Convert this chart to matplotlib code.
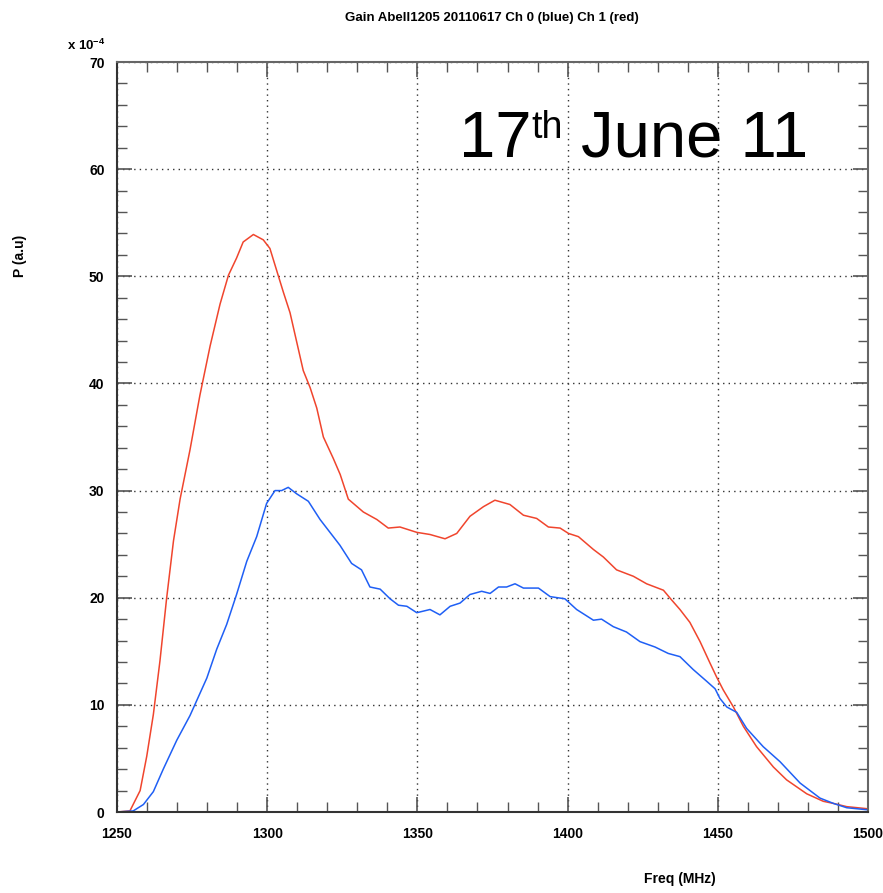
import matplotlib
matplotlib.use("Agg")
import matplotlib.pyplot as plt
from matplotlib.ticker import MultipleLocator

freq_red = [1250, 1254.3, 1257.7, 1259.9, 1262.1, 1264.3, 1266.5, 1268.8, 1271, 1274.3, 1277.6,
            1281, 1284.3, 1287.1, 1289.8, 1292, 1295.4, 1298.7, 1300.9, 1303.2, 1305.4, 1307.6,
            1309.8, 1312, 1314.3, 1316.5, 1318.7, 1322, 1324.3, 1327, 1332, 1336.5, 1340.3,
            1344.2, 1349.8, 1354.2, 1359.2, 1363.1, 1367.5, 1372, 1375.8, 1380.8, 1385.3,
            1389.7, 1393.6, 1397.5, 1400.3, 1403.6, 1408.6, 1411.9, 1416.3, 1421.9, 1426.3,
            1431.9, 1434.6, 1437.4, 1440.7, 1444.1, 1447.4, 1449.6, 1451.8, 1455.2, 1458.5,
            1462.9, 1468.5, 1472.9, 1479.6, 1485.1, 1488.5, 1492.9, 1500]
p_red = [0, 0.1, 2.0, 5.2, 9.1, 14.1, 19.9, 25.3, 29.2, 33.8, 38.9,
         43.5, 47.4, 50.1, 51.7, 53.2, 53.9, 53.4, 52.6, 50.5, 48.5, 46.6,
         43.9, 41.2, 39.6, 37.7, 35.0, 33.0, 31.5, 29.2, 28.0, 27.3, 26.5,
         26.6, 26.1, 25.9, 25.5, 26.0, 27.6, 28.5, 29.1, 28.7, 27.7,
         27.4, 26.6, 26.5, 26.0, 25.7, 24.5, 23.8, 22.6, 22.0, 21.3,
         20.7, 19.8, 18.9, 17.7, 15.9, 13.9, 12.6, 11.4, 9.8, 8.0,
         6.1, 4.2, 3.0, 1.7, 1.0, 0.8, 0.5, 0.3]

freq_blue = [1250, 1255.4, 1258.8, 1262.1, 1265.4, 1269.9, 1274.3, 1279.9, 1283.2, 1286.5,
             1289.8, 1293.2, 1296.5, 1299.8, 1302.6, 1304.8, 1307, 1309.8, 1313.7, 1317.6,
             1320.9, 1324.2, 1328.1, 1331.4, 1334.2, 1337.6, 1340.9, 1343.7, 1346.5, 1349.8,
             1354.2, 1357.5, 1360.9, 1364.2, 1367.5, 1371.4, 1374.2, 1377, 1379.7, 1382.5,
             1385.3, 1390.3, 1394.2, 1399.1, 1403, 1408.6, 1411.3, 1415.2, 1419.6, 1424.1,
             1429.1, 1433.5, 1437.4, 1441.8, 1446.3, 1449.1, 1450.7, 1453, 1456.3, 1459.6,
             1465.1, 1470.7, 1477.4, 1484, 1488.5, 1492.9, 1500]
p_blue = [0, 0.1, 0.7, 1.9, 4.0, 6.7, 9.0, 12.5, 15.2, 17.5,
          20.3, 23.4, 25.7, 28.8, 30.0, 30.0, 30.3, 29.7, 29.0, 27.3,
          26.1, 24.9, 23.2, 22.6, 21.0, 20.8, 19.9, 19.3, 19.2, 18.6,
          18.9, 18.4, 19.2, 19.5, 20.3, 20.6, 20.4, 21.0, 21.0, 21.3,
          20.9, 20.9, 20.1, 19.9, 18.9, 17.9, 18.0, 17.3, 16.8, 15.9,
          15.4, 14.8, 14.5, 13.3, 12.2, 11.5, 10.6, 9.8, 9.3, 7.8,
          6.1, 4.7, 2.7, 1.3, 0.8, 0.4, 0.2]

title = "Gain Abell1205 20110617 Ch 0 (blue) Ch 1 (red)"
xlabel = "Freq (MHz)"
ylabel = "P (a.u)"

FONT = ['Liberation Sans', 'DejaVu Sans']
plt.rcParams['font.family'] = FONT
plt.rcParams['mathtext.fontset'] = 'custom'
plt.rcParams['mathtext.rm'] = 'Liberation Sans:bold'
plt.rcParams['mathtext.bf'] = 'Liberation Sans:bold'

W, H = 883, 893
fig = plt.figure(figsize=(W / 100, H / 100), dpi=100)
ax = fig.add_axes([117 / W, 1 - 812 / H, (868 - 117) / W, (812 - 62) / H])

ax.plot(freq_red, p_red, color='#f0452d', lw=1.1)
ax.plot(freq_blue, p_blue, color='#1f5ff5', lw=1.1)

ax.set_xlim(1250, 1500)
ax.set_ylim(0, 70)
ax.xaxis.set_major_locator(MultipleLocator(50))
ax.xaxis.set_minor_locator(MultipleLocator(10))
ax.yaxis.set_major_locator(MultipleLocator(10))
ax.yaxis.set_minor_locator(MultipleLocator(2))
ax.tick_params(which='both', direction='in', top=True, right=True, color='#555555')
ax.tick_params(which='major', length=11, width=1.2, labelsize=10, pad=9)
ax.tick_params(which='minor', length=7, width=1.0)
ax.tick_params(axis='x', which='major', pad=11)
for lab in ax.get_xticklabels() + ax.get_yticklabels():
    lab.set_fontweight('bold')
ax.grid(True, which='major', linestyle=(0, (1, 3)), color='#333333', lw=1.0)
for s in ax.spines.values():
    s.set_color('#666666')
    s.set_linewidth(1.5)
ax.spines['left'].set_color('#333333')
ax.spines['bottom'].set_color('#333333')

fig.text(492 / W, 1 - 18 / H, title, ha='center', va='center', fontsize=9.5, fontweight='bold')
fig.text(86 / W, 1 - 50 / H, r'x 10$^{-4}$', ha='center', va='baseline', fontsize=9.5, fontweight='bold')
fig.text(20 / W, 1 - 256 / H, ylabel, ha='center', va='center', rotation=90, fontsize=10, fontweight='bold')
fig.text(680 / W, 1 - 879 / H, xlabel, ha='center', va='center', fontsize=10, fontweight='bold')

BIG = ['Liberation Sans', 'DejaVu Sans']
fig.text(459 / W, 1 - 157 / H, "17", ha='left', va='baseline', fontsize=47, family=BIG)
fig.text(531 / W, 1 - 138 / H, "th", ha='left', va='baseline', fontsize=27, family=BIG)
fig.text(581 / W, 1 - 157 / H, "June 11", ha='left', va='baseline', fontsize=47, family=BIG)

fig.savefig("out.png", dpi=100)
